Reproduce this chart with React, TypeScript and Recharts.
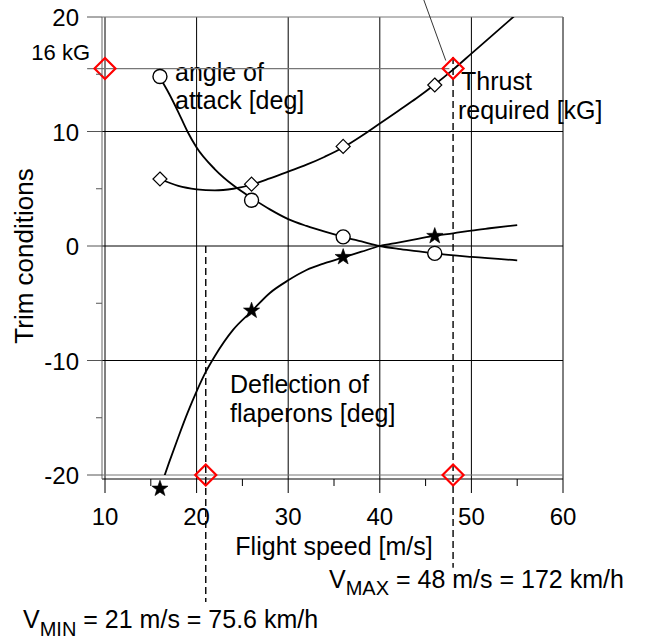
import React from "react";
import { ComposedChart, Line, Scatter, XAxis, YAxis, ReferenceLine } from "recharts";

const FONT = "'Liberation Sans', Arial, Helvetica, sans-serif";

// measured trim points (markers)
const measuredSpeeds = [16, 26, 36, 46];
const thrustMeasured = [5.85, 5.4, 8.7, 14.06];
const alphaMeasured = [14.8, 4.0, 0.8, -0.64];
const flapMeasured = [-21.2, -5.65, -0.97, 0.87];

// fitted curves
const thrustCurveSpeeds = [16, 18, 20, 22, 24, 26, 28, 30, 32, 34, 36, 38, 40, 42, 44, 46, 48, 50, 52, 55];
const thrustCurve = [5.85, 5.25, 4.95, 4.85, 5.0, 5.35, 5.9, 6.5, 7.1, 7.8, 8.6, 9.6, 10.7, 11.8, 12.9, 14.1, 15.4, 16.8, 18.2, 20.3];

const alphaCurveSpeeds = [16, 17, 18, 19, 20, 22, 24, 26, 28, 30, 32, 34, 36, 38, 40, 42, 44, 46, 50, 55];
const alphaCurve = [14.7, 13.3, 11.7, 10.0, 8.6, 6.7, 5.3, 4.2, 3.2, 2.35, 1.75, 1.25, 0.8, 0.4, 0, -0.25, -0.45, -0.65, -0.95, -1.25];

const flapCurveSpeeds = [16, 17, 18, 19, 20, 21, 22, 24, 26, 28, 30, 32, 34, 36, 38, 40, 42, 44, 46, 48, 50, 52, 55];
const flapCurve = [-21.2, -18.9, -16.7, -14.6, -12.7, -11.0, -9.6, -7.3, -5.7, -4.1, -3.0, -2.1, -1.5, -1.0, -0.5, 0, 0.3, 0.6, 0.9, 1.1, 1.35, 1.55, 1.83];

// axis ticks
const xTicks = [10, 15, 20, 25, 30, 35, 40, 45, 50, 55, 60];
const yTicks = [-20, -15, -10, -5, 0, 5, 10, 15, 20];
const xGrid = [10, 20, 30, 40, 50, 60];
const yGridBlack = [10, 0, -10];
const yGridGray = [20, -20];

// operating limits
const V_MIN = 21;
const V_MAX = 48;
const THRUST_LIMIT = 15.5;
const limitPoints = [
  { v: 10, y: THRUST_LIMIT },
  { v: V_MAX, y: THRUST_LIMIT },
  { v: V_MIN, y: -20 },
  { v: V_MAX, y: -20 },
];

const toPoints = (xs: number[], ys: number[]) => xs.map((v, i) => ({ v, y: ys[i] }));

const thrustData = toPoints(thrustCurveSpeeds, thrustCurve);
const alphaData = toPoints(alphaCurveSpeeds, alphaCurve);
const flapData = toPoints(flapCurveSpeeds, flapCurve);
const thrustPts = toPoints(measuredSpeeds, thrustMeasured);
const alphaPts = toPoints(measuredSpeeds, alphaMeasured);
const flapPts = toPoints(measuredSpeeds, flapMeasured);

const XTick = (props: any) => {
  const { x, y, payload } = props;
  const major = payload.value % 10 === 0;
  return (
    <g>
      <line x1={x} x2={x} y1={y} y2={y + (major ? 14 : 7)} stroke="#000" strokeWidth={1} />
      {major && (
        <text x={x} y={y + 46} textAnchor="middle" fontSize={24} fill="#000" fontFamily={FONT}>
          {payload.value}
        </text>
      )}
    </g>
  );
};

const YTick = (props: any) => {
  const { x, y, payload } = props;
  const major = payload.value % 10 === 0;
  return (
    <g>
      <line x1={x - (major ? 15 : 6)} x2={x} y1={y} y2={y} stroke="#555" strokeWidth={1} />
      {major && (
        <text x={x - 23} y={y + 9} textAnchor="end" fontSize={24} fill="#000" fontFamily={FONT}>
          {payload.value}
        </text>
      )}
    </g>
  );
};

const OpenDiamond = (props: any) => {
  const { cx, cy } = props;
  const r = 7;
  return (
    <polygon
      points={`${cx},${cy - r} ${cx + r},${cy} ${cx},${cy + r} ${cx - r},${cy}`}
      fill="#fff"
      stroke="#000"
      strokeWidth={1.2}
    />
  );
};

const OpenCircle = (props: any) => {
  const { cx, cy } = props;
  return <circle cx={cx} cy={cy} r={7} fill="#fff" stroke="#000" strokeWidth={1.4} />;
};

const Star = (props: any) => {
  const { cx, cy } = props;
  const pts: string[] = [];
  for (let i = 0; i < 10; i++) {
    const r = i % 2 === 0 ? 8.5 : 3.4;
    const a = -Math.PI / 2 + (i * Math.PI) / 5;
    pts.push(`${cx + r * Math.cos(a)},${cy + r * Math.sin(a)}`);
  }
  return <polygon points={pts.join(" ")} fill="#000" stroke="#000" strokeWidth={0.6} />;
};

const RedDiamond = (props: any) => {
  const { cx, cy } = props;
  const r = 10.5;
  return (
    <polygon
      points={`${cx},${cy - r} ${cx + r},${cy} ${cx},${cy + r} ${cx - r},${cy}`}
      fill="none"
      stroke="#ff0000"
      strokeWidth={2.2}
    />
  );
};

const txt = { fontFamily: FONT, fontSize: 25, fill: "#000" };

export default function App() {
  return (
    <div style={{ position: "absolute", left: 0, top: 0, width: 645, height: 640, background: "#fff", fontFamily: FONT }}>
      <style>{`.recharts-line, .recharts-scatter { clip-path: none !important; }`}</style>
      <ComposedChart width={645} height={640} margin={{ top: 17, right: 82, bottom: 121, left: 42 }}>
        <XAxis
          dataKey="v"
          type="number"
          domain={[10, 60]}
          allowDataOverflow
          ticks={xTicks}
          interval={0}
          tickSize={0}
          tickMargin={0}
          tickLine={false}
          tick={<XTick />}
          axisLine={{ stroke: "#000", strokeWidth: 1 }}
          padding={{ left: 3, right: 0 }}
          height={40}
        />
        <YAxis
          type="number"
          domain={[-20, 20]}
          allowDataOverflow
          ticks={yTicks}
          interval={0}
          tickSize={0}
          tickMargin={0}
          tickLine={false}
          tick={<YTick />}
          axisLine={{ stroke: "#666", strokeWidth: 1 }}
          padding={{ top: 0, bottom: 4 }}
          width={60}
        />

        {xGrid.map((v) => (
          <ReferenceLine key={`gx${v}`} x={v} stroke="#000" strokeWidth={1} />
        ))}
        {yGridBlack.map((v) => (
          <ReferenceLine key={`gy${v}`} y={v} stroke="#000" strokeWidth={1} />
        ))}
        {yGridGray.map((v) => (
          <ReferenceLine key={`gg${v}`} y={v} stroke="#777" strokeWidth={1} />
        ))}
        <ReferenceLine
          segment={[{ x: 8.05, y: THRUST_LIMIT }, { x: 47.6, y: THRUST_LIMIT }]}
          stroke="#777"
          strokeWidth={1.2}
          ifOverflow="visible"
        />

        <ReferenceLine
          segment={[{ x: V_MIN, y: 0 }, { x: V_MIN, y: -31.1 }]}
          stroke="#000"
          strokeWidth={1.4}
          strokeDasharray="7 4"
          ifOverflow="visible"
        />
        <ReferenceLine
          segment={[{ x: V_MAX, y: 16.5 }, { x: V_MAX, y: -28.1 }]}
          stroke="#000"
          strokeWidth={1.4}
          strokeDasharray="7 4"
          ifOverflow="visible"
        />
        <ReferenceLine
          segment={[{ x: 44.8, y: 21.5 }, { x: 47.2, y: 16.2 }]}
          stroke="#000"
          strokeWidth={0.8}
          ifOverflow="visible"
        />

        <Line data={thrustData} dataKey="y" type="monotone" stroke="#000" strokeWidth={1.8} dot={false} isAnimationActive={false} />
        <Line data={alphaData} dataKey="y" type="monotone" stroke="#000" strokeWidth={1.8} dot={false} isAnimationActive={false} />
        <Line data={flapData} dataKey="y" type="monotone" stroke="#000" strokeWidth={1.8} dot={false} isAnimationActive={false} />

        <Scatter data={thrustPts} dataKey="y" shape={<OpenDiamond />} isAnimationActive={false} />
        <Scatter data={alphaPts} dataKey="y" shape={<OpenCircle />} isAnimationActive={false} />
        <Scatter data={flapPts} dataKey="y" shape={<Star />} isAnimationActive={false} />
        <Scatter data={limitPoints} dataKey="y" shape={<RedDiamond />} isAnimationActive={false} />

        <text {...txt} x={24} y={256} textAnchor="middle" dominantBaseline="central" fontSize={26} transform="rotate(-90, 24, 256)">
          Trim conditions
        </text>
        <text {...txt} x={334} y={555} textAnchor="middle">
          Flight speed [m/s]
        </text>
        <text {...txt} x={90} y={60} textAnchor="end" fontSize={22}>
          16 kG
        </text>
        <text {...txt} x={175} y={81}>angle of</text>
        <text {...txt} x={175} y={109}>attack [deg]</text>
        <text {...txt} x={461} y={90}>Thrust</text>
        <text {...txt} x={458} y={119}>required [kG]</text>
        <text {...txt} x={230} y={393}>Deflection of</text>
        <text {...txt} x={230} y={422}>flaperons [deg]</text>
        <text {...txt} x={329} y={588}>
          V<tspan fontSize={20} dy={7}>MAX</tspan>
          <tspan dy={-7}> = 48 m/s = 172 km/h</tspan>
        </text>
        <text {...txt} x={23} y={628}>
          V<tspan fontSize={20} dy={8}>MIN</tspan>
          <tspan dy={-8}> = 21 m/s = 75.6 km/h</tspan>
        </text>
      </ComposedChart>
    </div>
  );
}
